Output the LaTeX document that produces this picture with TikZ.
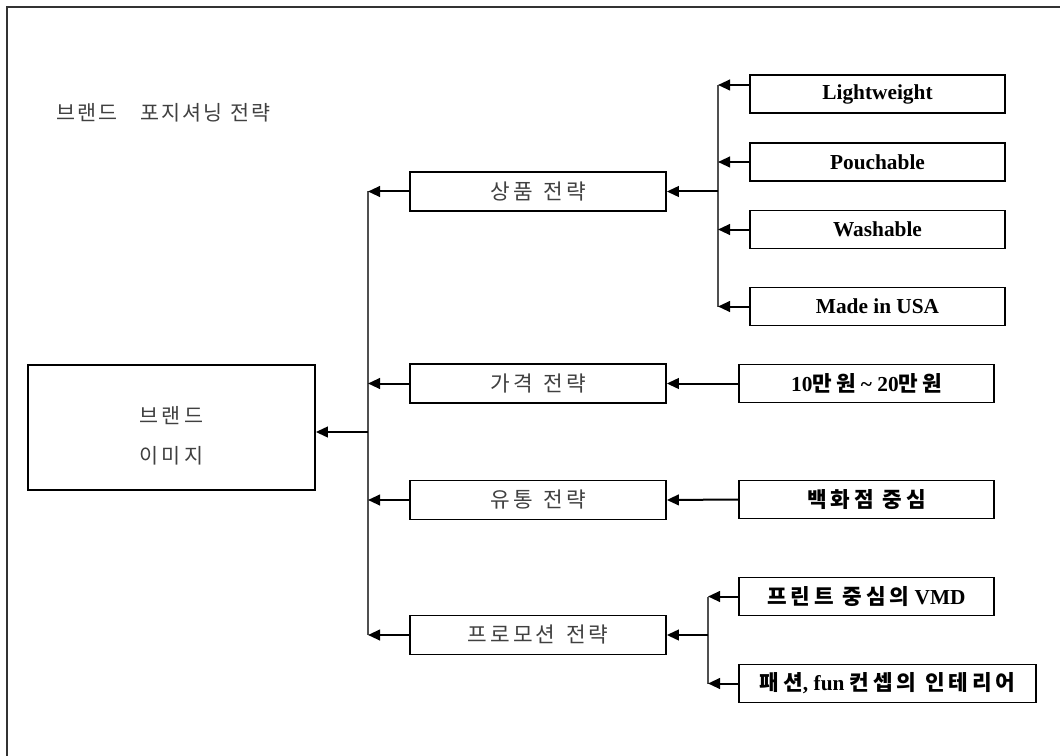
\documentclass[tikz,border=0pt]{standalone}
\usepackage{fontspec}
\usetikzlibrary{arrows.meta}
\setmainfont{Liberation Serif}
\newfontfamily\krlight[LetterSpace=15]{Noto Sans CJK KR}
\newfontfamily\krtitle[LetterSpace=10]{Noto Sans CJK KR}
\newfontfamily\krbold[LetterSpace=18]{Noto Sans CJK KR}
\newcommand{\hk}[1]{{\krbold\bfseries #1}}
\newcommand{\wsp}{\hspace{0.5em}}
\definecolor{softtext}{HTML}{404040}
\definecolor{busgray}{HTML}{505050}
\tikzset{
  lightfont/.style={font=\krlight\fontsize{16}{19}\selectfont, text=softtext},
  midbox/.style={draw=black, line width=1.3pt, minimum width=192pt, minimum height=29.25pt, inner sep=0pt, lightfont},
  leafbox/.style={draw=black, line width=1.3pt, minimum width=191.25pt, minimum height=28.5pt, inner sep=0pt, font=\bfseries\fontsize{16}{19}\selectfont, text=black},
  brandbox/.style={draw=black, line width=1.3pt, minimum width=215.25pt, minimum height=93.75pt, inner sep=0pt, align=center, font=\krlight\fontsize{15.5}{18}\selectfont, text=softtext},
  conn/.style={line width=1.5pt, -{Triangle[length=9pt,width=8pt]}},
  bus/.style={line width=1.2pt, draw=busgray}
}
\begin{document}
\begin{tikzpicture}[x=0.75pt,y=-0.75pt]
\useasboundingbox (0,0) rectangle (1060,756);
\fill[white] (0,0) rectangle (1060,756);
% frame
\draw[line width=1.5pt, black!80] (7,756) -- (7,7) -- (1060,7);
% title
\node[anchor=west, inner sep=0pt, font=\krtitle\fontsize{15.5}{18}\selectfont, text=softtext] (title) at (56,113) {브랜드\hspace{1.1em}포지셔닝\hspace{0.4em}전략};
% brand image
\node[brandbox] (brand) at (171.5,427.5) {\begin{tabular}{@{}c@{}}\rule{0pt}{29pt}브랜드\\[12pt]이미지\end{tabular}};
% middle boxes
\node[midbox] (prod) at (538,191.5) {상품\wsp 전략};
\node[midbox] (price) at (538,383.5) {가격\wsp 전략};
\node[midbox] (dist) at (538,500) {유통\wsp 전략};
\node[midbox] (promo) at (538,635) {프로모션\wsp 전략};
% leaf boxes
\node[leafbox] (lw) at (877.5,94) {Lightweight};
\node[leafbox] (pouch) at (877.5,162) {Pouchable};
\node[leafbox] (wash) at (877.5,229.5) {Washable};
\node[leafbox] (usa) at (877.5,306.5) {Made in USA};
\node[leafbox] (won) at (866.5,383.5) {10\hk{만원} \textasciitilde{} 20\hk{만원}};
\node[leafbox] (dept) at (866.5,499.5) {\hk{백화점 중심}};
\node[leafbox] (vmd) at (866.5,596.5) {\hk{프린트 중심의} VMD};
\node[leafbox, minimum width=222.75pt] (inter) at (887.5,683.5) {\hk{패션}, fun \hk{컨셉의 인테리어}};
% bus coordinates
\coordinate (m1) at (368,191.5);
\coordinate (m2) at (368,383.5);
\coordinate (mb) at (368,432);
\coordinate (m3) at (368,500);
\coordinate (m4) at (368,635);
\coordinate (s1) at (718,85);
\coordinate (s2) at (718,162);
\coordinate (s3) at (718,229.5);
\coordinate (s4) at (718,306.5);
\coordinate (sp) at (718,191.5);
\coordinate (p1) at (708,596.5);
\coordinate (pp) at (708,635);
\coordinate (p2) at (708,683.5);
% buses
\draw[bus] (m1) -- (m4);
\draw[bus] (s1) -- (s4);
\draw[bus] (p1) -- (p2);
% arrows to brand
\draw[conn] (mb) -- (brand.east |- mb);
\draw[conn] (prod.west) -- (m1);
\draw[conn] (price.west) -- (m2);
\draw[conn] (dist.west) -- (m3);
\draw[conn] (promo.west) -- (m4);
% product leaves
\draw[conn] (sp) -- (prod.east);
\draw[conn] ([yshift=6.75pt]lw.west) -- (s1);
\draw[conn] (pouch.west) -- (s2);
\draw[conn] (wash.west) -- (s3);
\draw[conn] (usa.west) -- (s4);
% price, distribution
\draw[conn] (won.west) -- (price.east);
\draw[conn] (dept.west) -- (dist.east);
% promotion
\draw[conn] (pp) -- (promo.east);
\draw[conn] (vmd.west) -- (p1);
\draw[conn] (inter.west) -- (p2);
\end{tikzpicture}
\end{document}
